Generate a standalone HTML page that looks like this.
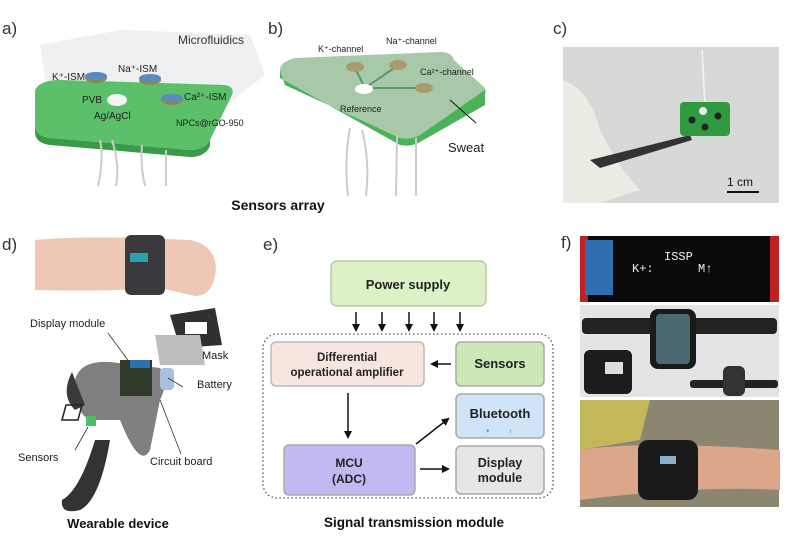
<!DOCTYPE html>
<html><head><meta charset="utf-8"><style>
html,body{margin:0;padding:0;background:#fff;}
svg{display:block;font-family:"Liberation Sans",Arial,sans-serif;}
</style></head><body>
<svg width="810" height="548" viewBox="0 0 810 548" xmlns="http://www.w3.org/2000/svg">
<defs>
<marker id="ah" markerWidth="8" markerHeight="8" refX="6" refY="4" orient="auto" markerUnits="userSpaceOnUse"><path d="M0,0 L8,4 L0,8 z" fill="#111"/></marker>
</defs>
<!-- panel labels -->
<text x="2" y="34" font-size="17" fill="#333">a)</text>
<text x="268" y="34" font-size="17" fill="#333">b)</text>
<text x="553" y="34" font-size="17" fill="#333">c)</text>
<text x="2" y="250" font-size="17" fill="#333">d)</text>
<text x="263" y="250" font-size="17" fill="#333">e)</text>
<text x="561" y="248" font-size="17" fill="#333">f)</text>

<!-- panel a -->
<polygon points="40,45 120,30 250,35 265,75 220,110 45,80" fill="#eceef0" opacity="0.9"/>
<text x="178" y="44" font-size="12" fill="#333">Microfluidics</text>
<path d="M35,90 Q40,80 60,80 L225,85 Q235,87 232,95 L210,140 Q205,150 190,150 L50,138 Q35,136 35,125 Z" fill="#5cbf6a"/>
<path d="M35,125 Q35,136 50,138 L190,150 Q205,150 210,140 L210,146 Q205,157 190,157 L50,145 Q35,143 35,132 Z" fill="#3a9a48"/>
<g stroke="#ccc" stroke-width="2" fill="none">
<path d="M100,140 Q104,160 98,186"/><path d="M112,140 Q120,165 116,186"/><path d="M142,145 Q140,165 145,186"/><path d="M166,150 L166,186"/>
</g>
<ellipse cx="96" cy="78" rx="11" ry="5" fill="#8a8a55"/><ellipse cx="96" cy="76" rx="11" ry="4" fill="#5a8abf"/>
<ellipse cx="150" cy="80" rx="11" ry="5" fill="#8a8a55"/><ellipse cx="150" cy="78" rx="11" ry="4" fill="#5a8abf"/>
<ellipse cx="172" cy="100" rx="11" ry="5" fill="#8a8a55"/><ellipse cx="172" cy="98" rx="11" ry="4" fill="#5a8abf"/>
<ellipse cx="117" cy="100" rx="10" ry="6" fill="#f4f4f4"/>
<text x="52" y="80" font-size="10" fill="#222">K⁺-ISM</text>
<text x="118" y="72" font-size="10" fill="#222">Na⁺-ISM</text>
<text x="184" y="100" font-size="10" fill="#222">Ca²⁺-ISM</text>
<text x="82" y="103" font-size="10" fill="#222">PVB</text>
<text x="94" y="119" font-size="10" fill="#222">Ag/AgCl</text>
<text x="176" y="126" font-size="9" fill="#222">NPCs@rGO-950</text>

<!-- panel b -->
<path d="M280,70 Q280,62 295,58 L440,52 Q452,52 454,60 L485,88 Q488,95 480,100 L420,135 Q412,140 400,138 L285,85 Z" fill="#a7c9a9"/>
<path d="M280,70 L280,78 L400,145 Q412,147 420,142 L485,105 L485,90 L420,135 Q412,140 400,138 L285,85 Z" fill="#4bb25a"/>
<g stroke="#ccc" stroke-width="2" fill="none">
<path d="M350,128 Q344,160 348,196"/><path d="M362,130 Q370,160 366,196"/><path d="M397,136 L396,196"/><path d="M416,138 L416,196"/>
</g>
<g stroke="#5a9a62" stroke-width="2"><line x1="365" y1="88" x2="355" y2="68"/><line x1="365" y1="88" x2="397" y2="66"/><line x1="365" y1="88" x2="424" y2="88"/></g>
<ellipse cx="355" cy="67" rx="9" ry="5" fill="#a89c6a"/>
<ellipse cx="398" cy="65" rx="9" ry="5" fill="#a89c6a"/>
<ellipse cx="424" cy="88" rx="9" ry="5" fill="#a89c6a"/>
<ellipse cx="364" cy="89" rx="9" ry="5" fill="#fff"/>
<text x="318" y="52" font-size="9" fill="#222">K⁺-channel</text>
<text x="386" y="44" font-size="9" fill="#222">Na⁺-channel</text>
<text x="420" y="75" font-size="9" fill="#222">Ca²⁺-channel</text>
<text x="340" y="112" font-size="9" fill="#222">Reference</text>
<line x1="476" y1="123" x2="450" y2="100" stroke="#111" stroke-width="1"/>
<text x="448" y="152" font-size="13" fill="#222">Sweat</text>
<text x="278" y="210" font-size="14" font-weight="bold" text-anchor="middle" fill="#111">Sensors array</text>

<!-- panel c -->
<rect x="563" y="47" width="216" height="156" fill="#d6d9d6"/>
<path d="M563,80 Q590,90 600,130 Q620,170 640,190 L600,203 L563,203 Z" fill="#ecebe4"/>
<path d="M590,160 L690,135 L692,140 L600,168 Z" fill="#333"/>
<line x1="702" y1="50" x2="705" y2="105" stroke="#f4f4f4" stroke-width="1.5"/>
<rect x="680" y="102" width="50" height="34" rx="4" fill="#2f9a40"/>
<circle cx="703" cy="111" r="4" fill="#eee"/>
<circle cx="692" cy="120" r="3.5" fill="#222"/><circle cx="718" cy="116" r="3.5" fill="#222"/><circle cx="705" cy="127" r="3.5" fill="#222"/>
<text x="727" y="186" font-size="12" fill="#111">1 cm</text>
<line x1="727" y1="192" x2="759" y2="192" stroke="#111" stroke-width="2"/>

<!-- panel d -->
<path d="M35,240 Q80,236 140,238 L190,240 Q215,245 216,268 Q214,296 195,296 L160,288 Q100,292 35,290 Z" fill="#eec8b4"/>
<rect x="125" y="235" width="40" height="60" rx="6" fill="#3a3a3e"/>
<rect x="130" y="253" width="18" height="9" fill="#2aa0b0"/>
<text x="30" y="327" font-size="11" fill="#222">Display module</text>
<line x1="108" y1="333" x2="130" y2="363" stroke="#333" stroke-width="0.8"/>
<polygon points="170,315 215,308 222,345 180,348" fill="#303030"/><rect x="185" y="322" width="22" height="12" fill="#fff"/>
<polygon points="155,335 200,335 205,365 160,365" fill="#bdbdbd"/>
<path d="M75,380 Q80,360 110,362 L160,368 Q170,380 160,400 L150,450 Q140,470 120,420 L95,420 Q80,420 78,400 Z" fill="#7f7f7f"/>
<path d="M110,440 Q100,500 80,510 Q60,515 62,500 Q80,490 95,440 Z" fill="#333"/>
<path d="M72,372 Q60,395 75,410 L85,405 Z" fill="#3a3a3a"/>
<rect x="120" y="360" width="32" height="36" fill="#2f3a2a"/><rect x="130" y="360" width="20" height="8" fill="#2a70b0"/>
<rect x="160" y="368" width="14" height="22" rx="4" fill="#a7c0e0"/>
<rect x="86" y="416" width="10" height="10" fill="#4dbd6a"/>
<path d="M66,405 L82,405 L78,420 L62,420 Z" fill="none" stroke="#222" stroke-width="1.5"/>
<text x="202" y="359" font-size="11" fill="#222">Mask</text>
<text x="197" y="388" font-size="11" fill="#222">Battery</text>
<line x1="183" y1="387" x2="168" y2="378" stroke="#333" stroke-width="0.8"/>
<text x="18" y="461" font-size="11" fill="#222">Sensors</text>
<line x1="75" y1="450" x2="88" y2="427" stroke="#333" stroke-width="0.8"/>
<text x="150" y="465" font-size="11" fill="#222">Circuit board</text>
<line x1="181" y1="454" x2="160" y2="400" stroke="#333" stroke-width="0.8"/>
<text x="118" y="528" font-size="13" font-weight="bold" text-anchor="middle" fill="#111">Wearable device</text>

<!-- panel e -->
<rect x="331" y="261" width="155" height="45" rx="6" fill="#dcf2c6" stroke="#b8c8a8" stroke-width="1.5"/>
<text x="408" y="289" font-size="13" font-weight="bold" text-anchor="middle" fill="#222">Power supply</text>
<g stroke="#111" stroke-width="1.5" marker-end="url(#ah)">
<line x1="356" y1="312" x2="356" y2="330"/><line x1="382" y1="312" x2="382" y2="330"/><line x1="409" y1="312" x2="409" y2="330"/><line x1="434" y1="312" x2="434" y2="330"/><line x1="460" y1="312" x2="460" y2="330"/>
</g>
<rect x="263" y="334" width="290" height="164" rx="14" fill="none" stroke="#555" stroke-width="1.3" stroke-dasharray="1.5,2.5"/>
<rect x="271" y="342" width="153" height="44" rx="5" fill="#f7e6e0" stroke="#bbb" stroke-width="1.5"/>
<text x="347" y="361" font-size="11.5" font-weight="bold" text-anchor="middle" fill="#222">Differential</text>
<text x="347" y="376" font-size="11.5" font-weight="bold" text-anchor="middle" fill="#222">operational amplifier</text>
<rect x="456" y="342" width="88" height="44" rx="5" fill="#cce8b6" stroke="#aaa" stroke-width="1.5"/>
<text x="500" y="368" font-size="13" font-weight="bold" text-anchor="middle" fill="#222">Sensors</text>
<rect x="456" y="394" width="88" height="44" rx="5" fill="#cfe5f7" stroke="#aaa" stroke-width="1.5"/>
<text x="500" y="418" font-size="13" font-weight="bold" text-anchor="middle" fill="#222">Bluetooth</text>
<text x="486" y="433" font-size="7" fill="#5aa0d0">▾</text><text x="510" y="433" font-size="7" fill="#5aa0d0">ᵻ</text>
<rect x="284" y="445" width="131" height="50" rx="5" fill="#c2b8f2" stroke="#aaa" stroke-width="1.5"/>
<text x="349" y="467" font-size="12" font-weight="bold" text-anchor="middle" fill="#222">MCU</text>
<text x="349" y="483" font-size="12" font-weight="bold" text-anchor="middle" fill="#222">(ADC)</text>
<rect x="456" y="446" width="88" height="48" rx="5" fill="#e6e6e6" stroke="#aaa" stroke-width="1.5"/>
<text x="500" y="467" font-size="12.5" font-weight="bold" text-anchor="middle" fill="#222">Display</text>
<text x="500" y="482" font-size="12.5" font-weight="bold" text-anchor="middle" fill="#222">module</text>
<g stroke="#111" stroke-width="1.5" marker-end="url(#ah)">
<line x1="451" y1="364" x2="432" y2="364"/>
<line x1="348" y1="393" x2="348" y2="437"/>
<line x1="416" y1="444" x2="448" y2="419"/>
<line x1="420" y1="469" x2="448" y2="469"/>
</g>
<text x="414" y="527" font-size="13.5" font-weight="bold" text-anchor="middle" fill="#111">Signal transmission module</text>

<!-- panel f -->
<rect x="580" y="236" width="199" height="66" fill="#0a0a0a"/>
<rect x="580" y="236" width="8" height="66" fill="#c02020"/><rect x="585" y="240" width="28" height="55" fill="#2f6fb0"/>
<rect x="770" y="236" width="9" height="66" fill="#c02020"/>
<text x="664" y="260" font-size="12" font-family="Liberation Mono,monospace" fill="#eee">ISSP</text>
<text x="632" y="272" font-size="12" font-family="Liberation Mono,monospace" fill="#eee">K+:</text>
<text x="698" y="272" font-size="12" font-family="Liberation Mono,monospace" fill="#eee">M↑</text>
<rect x="580" y="305" width="199" height="92" fill="#e4e4e6"/>
<rect x="582" y="318" width="195" height="16" rx="4" fill="#222"/>
<rect x="650" y="309" width="46" height="60" rx="8" fill="#1a1a1a"/><rect x="656" y="314" width="34" height="50" rx="4" fill="#4a6a70"/>
<rect x="584" y="350" width="48" height="44" rx="6" fill="#1c1c1c"/><rect x="605" y="362" width="18" height="12" fill="#ddd"/>
<rect x="690" y="380" width="88" height="8" rx="3" fill="#222"/><rect x="723" y="366" width="22" height="30" rx="6" fill="#333"/>
<rect x="580" y="400" width="199" height="107" fill="#8a8670"/>
<path d="M580,400 L650,400 L640,440 L580,450 Z" fill="#c2b85a"/>
<path d="M580,450 Q640,440 780,450 L780,490 Q700,485 580,500 Z" fill="#dba68a"/>
<rect x="638" y="440" width="60" height="60" rx="10" fill="#1a1a1a"/><rect x="660" y="456" width="16" height="8" fill="#8ab0d0"/>
</svg>
</body></html>
